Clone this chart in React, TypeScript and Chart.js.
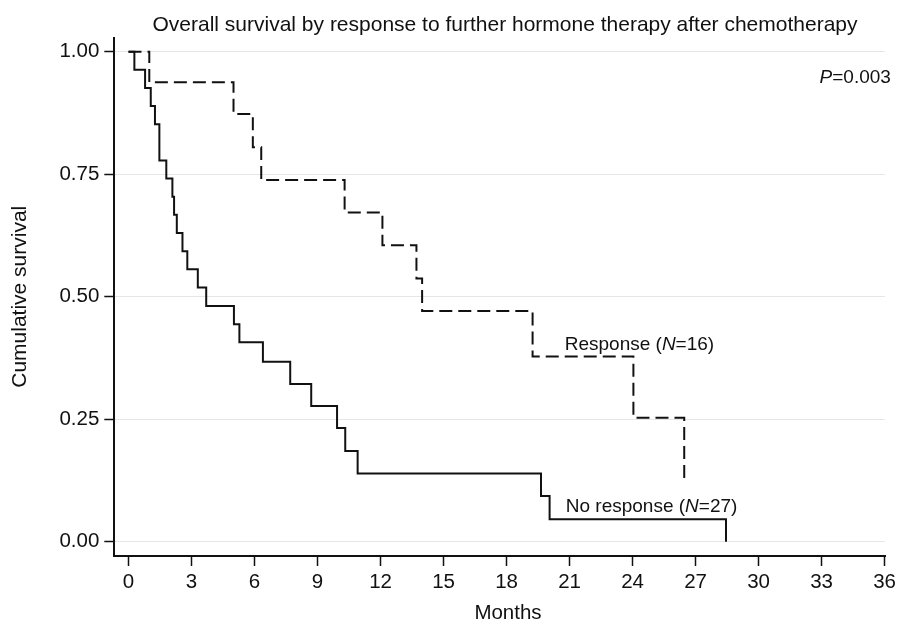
import React, { useEffect, useRef } from "react";
import { Chart, registerables } from "chart.js";

Chart.register(...registerables);

const TITLE = "Overall survival by response to further hormone therapy after chemotherapy";
const X_TITLE = "Months";
const Y_TITLE = "Cumulative survival";

const xTicks = [0, 3, 6, 9, 12, 15, 18, 21, 24, 27, 30, 33, 36];
const yTicks = [0, 0.25, 0.5, 0.75, 1];

// No response (N=27), solid
const noRespMonths = [0, 0.28, 0.79, 1.06, 1.26, 1.47, 1.8, 2.09, 2.17, 2.3, 2.57, 2.8, 3.3, 3.7, 5.02, 5.28, 6.4, 7.7, 8.7, 9.93, 10.32, 10.91, 19.64, 20.05, 28.45];
const noRespSurv = [1, 0.963, 0.926, 0.889, 0.852, 0.778, 0.741, 0.704, 0.667, 0.63, 0.593, 0.556, 0.519, 0.481, 0.444, 0.407, 0.367, 0.322, 0.277, 0.232, 0.185, 0.139, 0.093, 0.046, 0];

// Response (N=16), dashed
const respMonths = [0, 0.99, 5.0, 5.92, 6.32, 10.29, 12.09, 13.71, 13.98, 19.24, 24.04, 26.46];
const respSurv = [1, 0.9375, 0.873, 0.805, 0.738, 0.672, 0.605, 0.537, 0.471, 0.378, 0.253, 0.126];

// annotation texts: [text, italic] parts, anchored in data coordinates
const annotations = [
  { parts: [["P", true], ["=0.003", false]], x: 36.3, y: 0.936, align: "right" },
  { parts: [["Response (", false], ["N", true], ["=16)", false]], x: 20.77, y: 0.391, align: "left" },
  { parts: [["No response (", false], ["N", true], ["=27)", false]], x: 20.82, y: 0.061, align: "left" },
];

const FONT = '"Liberation Sans", Arial, Helvetica, sans-serif';
const INK = "#111111";

function drawRich(ctx: CanvasRenderingContext2D, parts: any[], x: number, y: number, size: number, align: string) {
  const widths = parts.map(([t, it]) => {
    ctx.font = `${it ? "italic " : ""}${size}px ${FONT}`;
    return ctx.measureText(t).width;
  });
  const total = widths.reduce((a, b) => a + b, 0);
  let cx = align === "right" ? x - total : align === "center" ? x - total / 2 : x;
  ctx.textAlign = "left";
  ctx.textBaseline = "alphabetic";
  parts.forEach(([t, it], i) => {
    ctx.font = `${it ? "italic " : ""}${size}px ${FONT}`;
    ctx.fillText(t, cx, y);
    cx += widths[i];
  });
}

const textPlugin = {
  id: "textPlugin",
  afterDraw(chart: any) {
    const ctx = chart.ctx as CanvasRenderingContext2D;
    const xs = chart.scales.x;
    const ys = chart.scales.y;
    ctx.save();
    ctx.fillStyle = INK;
    drawRich(ctx, [[TITLE, false]], 505, 30.5, 21, "center");
    drawRich(ctx, [[X_TITLE, false]], 508, 619.3, 20.5, "center");
    annotations.forEach((a) => {
      drawRich(ctx, a.parts, xs.getPixelForValue(a.x), ys.getPixelForValue(a.y), 19, a.align);
    });
    ctx.restore();
  },
};

export default function App() {
  const ref = useRef<HTMLCanvasElement | null>(null);
  useEffect(() => {
    if (!ref.current) return;
    const chart = new Chart(ref.current, {
      type: "line",
      data: {
        datasets: [
          {
            label: "No response",
            data: noRespMonths.map((m, i) => ({ x: m, y: noRespSurv[i] })),
            borderColor: INK,
            borderWidth: 2,
            pointRadius: 0,
            stepped: "before",
            fill: false,
          },
          {
            label: "Response",
            data: respMonths.map((m, i) => ({ x: m, y: respSurv[i] })),
            borderColor: INK,
            borderWidth: 2,
            borderDash: [13, 6],
            pointRadius: 0,
            stepped: "before",
            fill: false,
          },
        ],
      },
      options: {
        animation: false,
        responsive: false,
        maintainAspectRatio: false,
        layout: { padding: { left: 0, right: 13.5, top: 37.5, bottom: 0 } },
        plugins: {
          legend: { display: false },
          title: { display: false },
          tooltip: { enabled: false },
        },
        scales: {
          x: {
            type: "linear",
            min: -0.676,
            max: 36.02,
            afterFit: (s: any) => {
              s.height = 67;
            },
            afterBuildTicks: (s: any) => {
              s.ticks = xTicks.map((v) => ({ value: v }));
            },
            grid: {
              drawOnChartArea: false,
              drawTicks: true,
              tickLength: 10,
              tickColor: INK,
              tickWidth: 1.5,
            },
            border: { display: true, color: INK, width: 2 },
            ticks: {
              color: INK,
              padding: 4,
              maxRotation: 0,
              autoSkip: false,
              font: { family: FONT, size: 20.5 },
              callback: (v: any) => String(v),
            },
          },
          y: {
            type: "linear",
            min: -0.0292,
            max: 1.029,
            afterFit: (s: any) => {
              s.width = 114.3;
            },
            afterBuildTicks: (s: any) => {
              s.ticks = yTicks.map((v) => ({ value: v }));
            },
            grid: {
              drawOnChartArea: true,
              color: "#e6e6e6",
              lineWidth: 1,
              drawTicks: true,
              tickLength: 10,
              tickColor: INK,
              tickWidth: 1.5,
            },
            border: { display: true, color: INK, width: 2 },
            ticks: {
              color: INK,
              padding: 5,
              autoSkip: false,
              font: { family: FONT, size: 20.5 },
              callback: (v: any) => Number(v).toFixed(2),
            },
            title: {
              display: true,
              text: Y_TITLE,
              color: INK,
              font: { family: FONT, size: 21 },
              padding: { top: 8, bottom: 0 },
            },
          },
        },
      },
      plugins: [textPlugin],
    });
    return () => chart.destroy();
  }, []);
  return (
    <div style={{ position: "absolute", left: 0, top: 0, width: 900, height: 623, background: "#fff" }}>
      <canvas ref={ref} width={900} height={623} />
    </div>
  );
}
